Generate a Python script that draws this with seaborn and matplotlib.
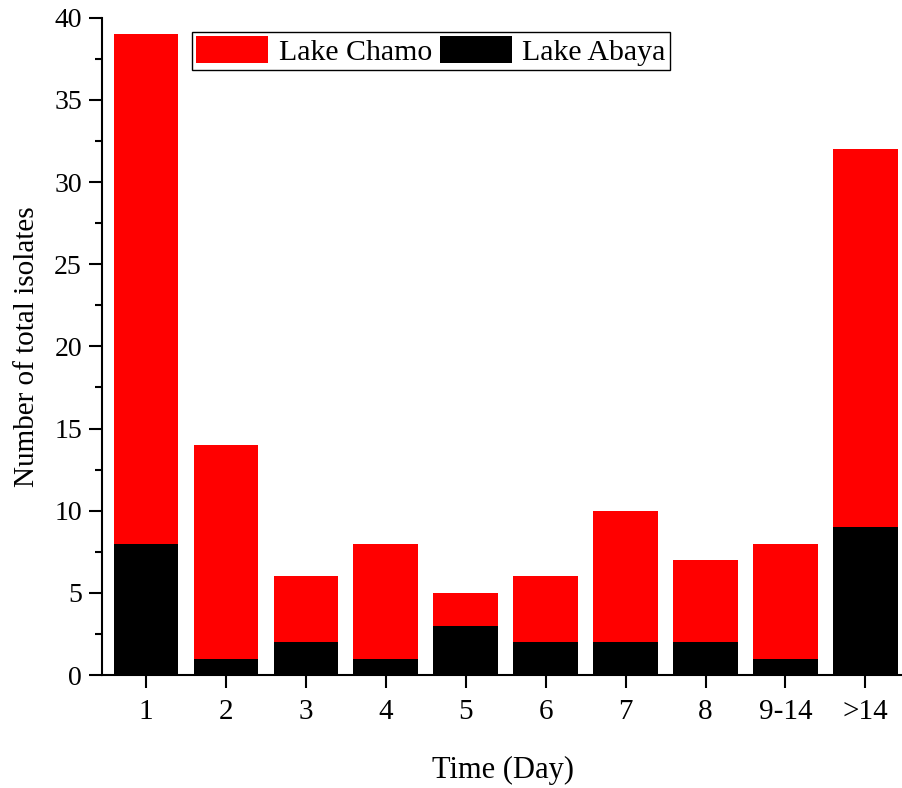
import matplotlib
matplotlib.use('Agg')
import matplotlib.pyplot as plt
import seaborn as sns
import pandas as pd

days = ['1', '2', '3', '4', '5', '6', '7', '8', '9-14', '>14']
chamo = [31, 13, 4, 7, 2, 4, 8, 5, 7, 23]
abaya = [8, 1, 2, 1, 3, 2, 2, 2, 1, 9]

df = pd.DataFrame({'day': days, 'Lake Chamo': chamo, 'Lake Abaya': abaya})
df['total'] = df['Lake Chamo'] + df['Lake Abaya']

sns.set_style('ticks')
plt.rcParams['font.family'] = ['Liberation Serif', 'DejaVu Serif']
plt.rcParams['text.color'] = 'black'
plt.rcParams['axes.labelcolor'] = 'black'
plt.rcParams['xtick.color'] = 'black'
plt.rcParams['ytick.color'] = 'black'

fig = plt.figure(figsize=(9.03, 7.88), dpi=100)
ax = fig.add_axes([0.113, 0.1434, 0.887, 0.834])

# red = total (Chamo stacked on Abaya), black = Abaya
sns.barplot(data=df, x='day', y='total', color='#ff0000', saturation=1,
            width=0.81, ax=ax, label='Lake Chamo', linewidth=0, edgecolor='none')
sns.barplot(data=df, x='day', y='Lake Abaya', color='black', saturation=1,
            width=0.81, ax=ax, label='Lake Abaya', linewidth=0, edgecolor='none')

ax.set_xlim(-0.55, 9.47)
ax.set_ylim(0, 40)
ax.set_yticks(range(0, 41, 5))
ax.set_yticks([i + 2.5 for i in range(0, 40, 5)], minor=True)
ax.set_xlabel('Time (Day)', fontsize=22, labelpad=22)
ax.set_ylabel('Number of total isolates', fontsize=21, labelpad=10)

sns.despine(ax=ax)
for s in ['left', 'bottom']:
    ax.spines[s].set_linewidth(1.5)
    ax.spines[s].set_color('black')
ax.tick_params(axis='both', which='major', length=9.5, width=1.5, color='black',
               direction='out')
ax.tick_params(axis='y', which='minor', length=5, width=1.5, color='black',
               direction='out')
ax.tick_params(axis='y', labelsize=20, pad=5, labelcolor='black')
ax.tick_params(axis='x', labelsize=21, pad=8, labelcolor='black')

leg = ax.legend(loc='upper left', bbox_to_anchor=(0.2126, 0.9594),
                bbox_transform=fig.transFigure, ncol=2, fontsize=21.5,
                frameon=True, fancybox=False, shadow=False, borderaxespad=0,
                handlelength=2.4, handleheight=0.97, handletextpad=0.35,
                columnspacing=0.28, borderpad=0.15)
leg.get_frame().set_edgecolor('black')
leg.get_frame().set_linewidth(1.0)
leg.get_frame().set_alpha(1)
for t in leg.get_texts():
    t.set_color('black')

plt.savefig('out.png', dpi=100)
